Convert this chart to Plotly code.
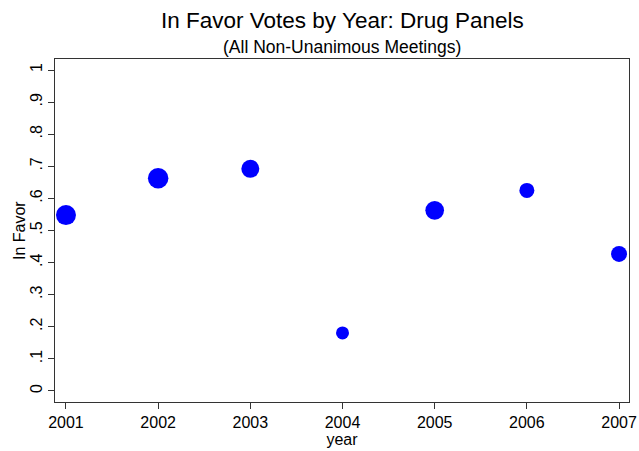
import plotly.graph_objects as go

# Share of in-favor votes per year (drug advisory panels, non-unanimous meetings)
years = [2001, 2002, 2003, 2004, 2005, 2006, 2007]
in_favor = [0.548, 0.663, 0.692, 0.181, 0.563, 0.625, 0.427]
# marker diameters (px), scaled by number of meetings in each year
marker_px = [20, 20.5, 18, 13, 18.7, 15, 16]

y_ticks = [0, 0.1, 0.2, 0.3, 0.4, 0.5, 0.6, 0.7, 0.8, 0.9, 1]
y_tick_text = ["0", ".1", ".2", ".3", ".4", ".5", ".6", ".7", ".8", ".9", "1"]

FONT = "Liberation Sans, Arial, Helvetica, sans-serif"

fig = go.Figure(
    go.Scatter(
        x=years,
        y=in_favor,
        mode="markers",
        marker=dict(color="#0000FF", size=marker_px, opacity=1, line=dict(width=0)),
        hoverinfo="x+y",
    )
)

axis_line = dict(
    showline=True,
    linecolor="#333333",
    linewidth=1,
    mirror=True,
    showgrid=False,
    zeroline=False,
    automargin=False,
    ticks="outside",
    ticklen=6,
    tickwidth=1,
    tickcolor="#333333",
    tickfont=dict(family=FONT, size=16, color="black"),
)

fig.update_layout(
    width=639,
    height=451,
    margin=dict(l=55, r=10, t=59, b=49),
    paper_bgcolor="white",
    plot_bgcolor="white",
    showlegend=False,
    font=dict(family=FONT, color="black"),
    xaxis=dict(
        range=[2000.881, 2007.108],
        tickmode="array",
        tickvals=years,
        ticktext=[str(y) for y in years],
        title=dict(text="year", font=dict(family=FONT, size=16), standoff=1),
        **axis_line,
    ),
    yaxis=dict(
        range=[-0.0343, 1.0343],
        tickmode="array",
        tickvals=y_ticks,
        ticktext=y_tick_text,
        tickangle=-90,
        **axis_line,
    ),
    annotations=[
        dict(
            text="In Favor Votes by Year: Drug Panels",
            xref="paper", yref="paper", x=0.5, y=1 + 38.5 / 343,
            xanchor="center", yanchor="middle", showarrow=False,
            font=dict(family=FONT, size=22.5, color="black"),
        ),
        dict(
            text="(All Non-Unanimous Meetings)",
            xref="paper", yref="paper", x=0.5, y=1 + 12.5 / 343,
            xanchor="center", yanchor="middle", showarrow=False,
            font=dict(family=FONT, size=17.5, color="black"),
        ),
        # vertical axis title
        dict(
            text="In Favor",
            xref="paper", yref="paper", x=-35.5 / 574, y=0.5,
            xanchor="center", yanchor="middle", textangle=-90, showarrow=False,
            font=dict(family=FONT, size=16, color="black"),
        ),
    ],
)

fig.write_html("out.html")
